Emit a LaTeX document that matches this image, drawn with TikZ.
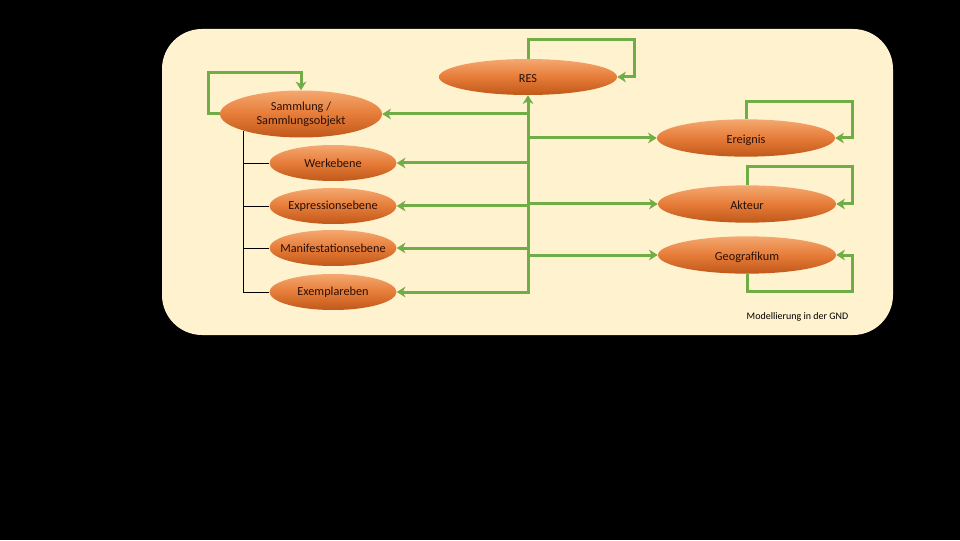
\documentclass[tikz,border=0pt]{standalone}
\usepackage{fontspec}
\setmainfont{Carlito}
\usetikzlibrary{arrows.meta,shapes.geometric}
\definecolor{slideBg}{RGB}{0,0,0}
\definecolor{panelBg}{RGB}{255,242,206}
\definecolor{linkGreen}{RGB}{112,173,71}
\definecolor{ovalTop}{RGB}{244,168,112}
\definecolor{ovalMid}{RGB}{230,124,56}
\definecolor{ovalBot}{RGB}{192,88,26}
\definecolor{ovalText}{RGB}{40,16,8}

\begin{document}
\begin{tikzpicture}[
    x=0.75pt,y=0.75pt,
    line join=miter,
    every node/.style={font=\fontsize{9.2}{10.5}\selectfont},
    oval/.style={
        ellipse,
        inner xsep=-15pt,
        inner ysep=0pt,
        top color=ovalTop,
        bottom color=ovalBot,
        middle color=ovalMid,
        text=ovalText,
        align=center
    },
    wide/.style={oval,minimum width=133.5pt,minimum height=28pt,
        text height=10.5pt,text depth=2pt},
    level/.style={oval,minimum width=95.25pt,minimum height=27pt},
    flow/.style={
        draw=linkGreen,
        line width=2.25pt,
        arrows={-Stealth[length=6.5pt,width=8pt,inset=2pt]}
    },
    tree/.style={draw=black,line width=0.7pt},
    note/.style={font=\fontsize{7.5}{9}\selectfont,anchor=east}
]

% ============================================================
% slide and panel
% ============================================================

\fill[slideBg] (0,0) rectangle (960,540);
\useasboundingbox (0,0) rectangle (960,540);
\fill[panelBg,rounded corners=30pt] (162,205) rectangle (893,511);

% ============================================================
% entity ovals
% ============================================================

\node[wide,minimum height=27pt] (res) at (528,463) {RES};

\node[oval,minimum width=121.5pt,minimum height=35.25pt] (samm) at (301,426)
    {Sammlung /\\Sammlungsobjekt};

\node[level] (werk) at (333,377) {Werkebene};
\node[level] (expr) at (333,334) {Expressionsebene};
\node[level] (mani) at (333,292) {Manifestationsebene};
\node[level] (exem) at (333,248) {Exemplareben};

\node[wide] (ereig) at (746,402) {Ereignis};
\node[wide] (akt)   at (747,336) {Akteur};
\node[wide] (geo)   at (747,285) {Geografikum};

\node[note] (gnd) at (853,223) {Modellierung in der GND};

% ============================================================
% black tree of the levels
% ============================================================

\draw[tree] (samm.south west) |- (exem.west);
\foreach \lv in {werk,expr,mani}
    \draw[tree] (samm.south west |- \lv.west) -- (\lv.west);

% ============================================================
% green links from the trunk
% ============================================================

\draw[flow,arrows={Stealth[length=6.5pt,width=8pt,inset=2pt]-Stealth[length=6.5pt,width=8pt,inset=2pt]}]
    (res.south) |- (exem.east);

\foreach \lv in {samm,werk,expr,mani}
    \draw[flow] (res.south |- \lv.east) -- (\lv.east);

\foreach \ent in {ereig,akt,geo}
    \draw[flow] (res.south |- \ent.west) -- (\ent.west);

% ============================================================
% self loops
% ============================================================

\coordinate (resloop)   at (634,500);
\coordinate (sammloop)  at (208,467);
\coordinate (ereigloop) at (852,438);
\coordinate (aktloop)   at (852,373);
\coordinate (geoloop)   at (852,249);

\draw[flow] (res.north) |- (resloop) |- (res.east);
\draw[flow] (samm.west) -| (sammloop) -| (samm.north);
\draw[flow] (ereig.north) |- (ereigloop) |- (ereig.east);
\draw[flow] (akt.north) |- (aktloop) |- (akt.east);
\draw[flow] (geo.south) |- (geoloop) |- (geo.east);

\end{tikzpicture}
\end{document}
